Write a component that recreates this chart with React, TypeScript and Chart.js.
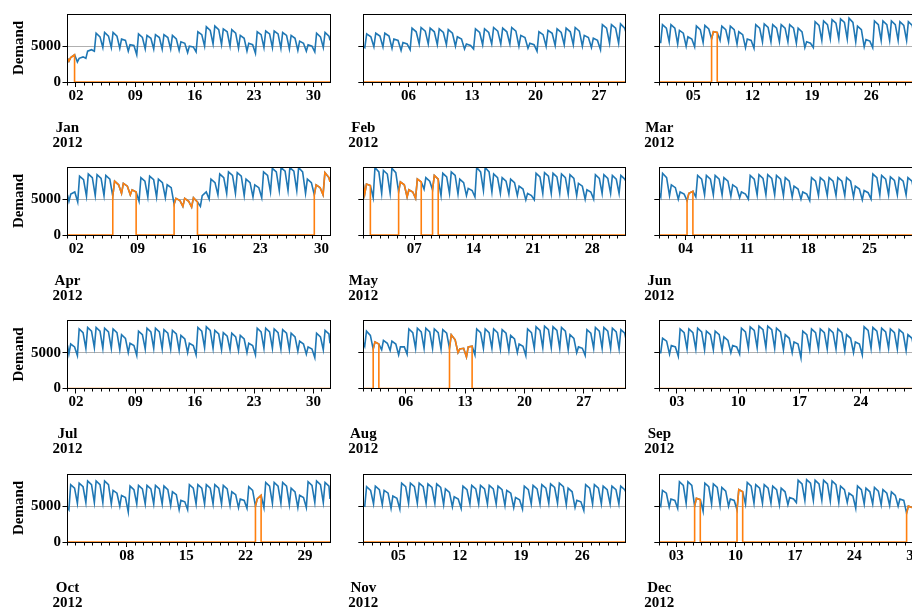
import React, { useEffect, useRef } from "react";
import { Chart, registerables } from "chart.js";

Chart.register(...registerables);

// ---------------- DATA ----------------
const YEAR = "2012";
const MONTHS = ["Jan", "Feb", "Mar", "Apr", "May", "Jun", "Jul", "Aug", "Sep", "Oct", "Nov", "Dec"];
const DAYS_IN_MONTH = [31, 29, 31, 30, 31, 30, 31, 31, 30, 31, 30, 31];
// weekly (Monday) tick days for each month
const TICK_DAYS = [
  [2, 9, 16, 23, 30], [6, 13, 20, 27], [5, 12, 19, 26], [2, 9, 16, 23, 30],
  [7, 14, 21, 28], [4, 11, 18, 25], [2, 9, 16, 23, 30], [6, 13, 20, 27],
  [3, 10, 17, 24], [8, 15, 22, 29], [5, 12, 19, 26], [3, 10, 17, 24, 31],
];
const Y_TICKS = [0, 5000];
const Y_MAX = 9480;
// hour of day of the three readings per day: night low, morning peak, evening plateau
const POINT_HOURS = [4, 9, 20];
// demand at 00:00 of the first day and 23:00 of the last day
const MONTH_START = [3300, 5000, 5500, 5600, 7100, 5800, 6000, 6400, 5000, 4800, 5100, 5300];
const MONTH_END = [5800, 7000, 6500, 7400, 7500, 6300, 6300, 7000, 6000, 6000, 7000, 4800];

const JAN_LOW = [2900, 2800, 3300, 4300, 4800, 4800, 4700, 4300, 3800, 4600, 4600, 4600, 4600, 4400, 4100, 4200, 5000, 5300, 5200, 5000, 4700, 4300, 4000, 4800, 4800, 4700, 4600, 4400, 4300, 4200, 4800];
const JAN_PEAK = [3400, 3300, 4300, 6800, 6900, 6900, 6000, 5200, 6700, 6500, 6600, 6600, 6500, 5600, 5000, 7000, 7700, 7800, 7400, 7300, 6500, 5400, 7000, 7100, 7100, 6900, 6500, 5700, 5200, 6800, 6900];
const JAN_EVE = [3800, 3500, 4500, 6300, 6400, 6400, 5800, 5100, 6200, 6100, 6200, 6200, 6000, 5400, 4900, 6600, 7200, 7300, 7000, 6800, 6100, 5200, 6600, 6700, 6700, 6500, 6100, 5400, 5000, 6300, 6400];

const FEB_LOW = [4800, 4900, 4900, 4700, 4400, 4500, 5300, 5300, 5200, 5200, 5000, 4600, 4600, 5200, 5300, 5300, 5300, 5000, 4700, 4300, 5000, 5100, 5200, 5200, 5000, 4800, 4500, 5400, 5400];
const FEB_PEAK = [6700, 6800, 6800, 6000, 5500, 7500, 7600, 7500, 7400, 7300, 6300, 5300, 7400, 7400, 7600, 7500, 7600, 6500, 5400, 7000, 7200, 7400, 7500, 7600, 6500, 6100, 8000, 8000, 8100];
const FEB_EVE = [6300, 6400, 6400, 5800, 5300, 7000, 7100, 7000, 6900, 6800, 6000, 5100, 6900, 6900, 7100, 7000, 7100, 6200, 5200, 6600, 6800, 6900, 7000, 7100, 6200, 5800, 7500, 7500, 7500];

const MAR_LOW = [5500, 5600, 5300, 5000, 4900, 5500, 6000, 5800, 5600, 5300, 4800, 4700, 5600, 5600, 5600, 5600, 5400, 4800, 4800, 5800, 6000, 6000, 6000, 5600, 4900, 4800, 5800, 5800, 5800, 5800, 5500];
const MAR_PEAK = [8000, 8000, 7200, 6300, 7800, 7900, 7000, 7800, 7800, 7000, 6000, 8000, 8100, 8000, 8000, 8000, 7500, 5600, 8400, 8500, 8700, 8800, 8900, 7800, 5900, 8500, 8500, 8500, 8400, 8400, 7500];
const MAR_EVE = [7500, 7500, 6800, 6000, 7300, 7400, 6900, 7300, 7300, 6600, 5800, 7500, 7600, 7500, 7500, 7500, 7000, 5400, 7900, 8000, 8200, 8300, 8300, 7300, 5700, 8000, 8000, 8000, 7900, 7900, 7000];

const APR_LOW = [4700, 4600, 5400, 5500, 5500, 5400, 5800, 5600, 4700, 5300, 5300, 5200, 4300, 4000, 3900, 4000, 5000, 5600, 5800, 5800, 5500, 5300, 5200, 6000, 6200, 6200, 6200, 5800, 5600, 5600];
const APR_PEAK = [5700, 8200, 8500, 8400, 8300, 7500, 7200, 6300, 8000, 8200, 7800, 7000, 5100, 5100, 5200, 5500, 7800, 8500, 8800, 8700, 7800, 7000, 8800, 9300, 9400, 9400, 9400, 7800, 7000, 8700];
const APR_EVE = [6000, 7700, 8000, 7900, 7800, 7000, 6800, 6000, 7500, 7700, 7300, 6600, 4800, 4700, 4600, 6000, 7300, 8000, 8300, 8200, 7300, 6600, 8300, 8800, 8900, 8900, 8800, 7300, 6600, 8000];

const MAY_LOW = [5700, 5200, 5800, 5800, 6000, 5300, 5100, 6400, 6300, 5500, 5800, 5700, 5500, 5300, 6200, 6000, 5800, 5700, 5500, 4900, 4900, 5800, 5800, 5800, 5700, 5500, 5000, 5000, 5800, 5800, 5800];
const MAY_PEAK = [7100, 9400, 9000, 9300, 7400, 6300, 7800, 8000, 8300, 8600, 8800, 7800, 6500, 9400, 9400, 8500, 8000, 7800, 6800, 5800, 8600, 8700, 8600, 8500, 8400, 7200, 6300, 8400, 8400, 8300, 8300];
const MAY_EVE = [6900, 8800, 8500, 8700, 7000, 6000, 7400, 7500, 7800, 8100, 8300, 7300, 6200, 8800, 8800, 8000, 7500, 7300, 6400, 5500, 8100, 8200, 8100, 8000, 7900, 6800, 6000, 7900, 7900, 7800, 7800];

const JUN_LOW = [5300, 5500, 5000, 4800, 5300, 5600, 5600, 5600, 5400, 5200, 5000, 5600, 5600, 5600, 5500, 5300, 5000, 4800, 5500, 5500, 5500, 5500, 5300, 4900, 5000, 5600, 5600, 5600, 5600, 5400];
const JUN_PEAK = [8600, 7000, 6000, 5800, 8300, 8300, 8300, 8000, 7000, 6000, 8300, 8400, 8400, 8300, 8000, 6800, 6000, 8000, 8000, 8000, 8000, 8000, 6800, 6200, 8500, 8300, 8100, 8000, 8000, 7000];
const JUN_EVE = [8000, 6600, 5700, 6100, 7800, 7800, 7800, 7500, 6600, 5700, 7800, 7900, 7900, 7800, 7500, 6400, 5700, 7500, 7500, 7500, 7500, 7500, 6400, 5900, 8000, 7800, 7600, 7500, 7500, 6600];

const JUL_LOW = [4800, 4600, 5600, 5700, 5600, 5600, 5400, 5000, 4600, 5500, 5600, 5500, 5500, 5300, 5000, 4700, 5700, 5600, 5400, 5400, 5300, 5000, 4700, 5600, 5600, 5500, 5400, 5200, 4800, 4300, 5400];
const JUL_PEAK = [6200, 8300, 8500, 8500, 8400, 8300, 7500, 6300, 8000, 8400, 8400, 8200, 8100, 7400, 6300, 8500, 8600, 8100, 7800, 7700, 7400, 6300, 8400, 8400, 8300, 8200, 7700, 6600, 5800, 7700, 8100];
const JUL_EVE = [5800, 7800, 8000, 8000, 7900, 7800, 7000, 6000, 7500, 7900, 7900, 7700, 7600, 6900, 6000, 8000, 8100, 7600, 7300, 7200, 6900, 6000, 7900, 7900, 7800, 7700, 7200, 6200, 5500, 7200, 7600];

const AUG_LOW = [5900, 5500, 5400, 5300, 4700, 4800, 5600, 5600, 5600, 5500, 5600, 5000, 4400, 4700, 5600, 5600, 5500, 5300, 5000, 4600, 5600, 5700, 5700, 5600, 5400, 5000, 4600, 5600, 5600, 5600, 5500];
const AUG_PEAK = [8000, 6500, 6700, 6600, 5800, 8300, 8400, 8400, 8300, 8200, 7500, 5500, 5800, 8300, 8300, 8300, 8200, 7400, 6200, 8300, 8600, 8700, 8600, 8500, 7500, 5800, 8200, 8500, 8500, 8400, 8200];
const AUG_EVE = [7400, 6200, 6300, 6200, 5800, 7800, 7900, 7900, 7800, 7700, 6800, 5600, 5900, 7800, 7800, 7800, 7700, 6900, 5900, 7800, 8100, 8200, 8100, 8000, 7000, 5600, 7700, 8000, 8000, 7900, 7700];

const SEP_LOW = [5000, 4800, 4500, 5500, 5500, 5400, 5400, 5300, 5000, 4800, 5600, 5700, 5700, 5600, 5400, 5000, 4300, 5400, 5500, 5500, 5500, 5300, 5000, 4700, 5600, 5600, 5600, 5500, 5300, 4900];
const SEP_PEAK = [7000, 6000, 8300, 8300, 8400, 8000, 8000, 7200, 6000, 8400, 8600, 8700, 8700, 8400, 7500, 6500, 8000, 8300, 8300, 8300, 8300, 7500, 6500, 8600, 8500, 8400, 8300, 8200, 7500, 6200];
const SEP_EVE = [6600, 5800, 7800, 7800, 7900, 7500, 7500, 6700, 5800, 7900, 8100, 8200, 8200, 7900, 7000, 6200, 7500, 7800, 7800, 7800, 7800, 7000, 6200, 8100, 8000, 7900, 7800, 7700, 7000, 5900];

const OCT_LOW = [4500, 5400, 5500, 5500, 5500, 5300, 5000, 4200, 5300, 5300, 5300, 5300, 5100, 4500, 4500, 5300, 5300, 5300, 5300, 5100, 4800, 4700, 5000, 4800, 5400, 5400, 5200, 4800, 4800, 5500, 5500];
const OCT_PEAK = [8000, 8200, 8500, 8500, 8500, 7200, 6500, 7800, 7900, 7900, 7900, 7800, 7000, 5800, 8000, 8000, 8000, 8000, 7900, 7000, 6000, 7700, 6000, 8300, 8300, 8300, 7500, 6500, 8400, 8500, 8300];
const OCT_EVE = [7500, 7700, 8000, 8000, 8000, 6800, 6200, 7300, 7400, 7400, 7400, 7300, 6600, 5600, 7500, 7500, 7500, 7500, 7400, 6600, 5800, 7200, 6500, 7800, 7800, 7800, 7000, 6200, 7900, 8000, 7800];

const NOV_LOW = [5000, 5300, 5200, 4700, 4600, 5400, 5400, 5400, 5400, 5200, 4900, 4700, 5300, 5300, 5300, 5300, 5100, 4800, 4600, 5300, 5300, 5400, 5400, 5200, 4800, 4400, 5300, 5300, 5300, 5300];
const NOV_PEAK = [7700, 7800, 7200, 6400, 8200, 8200, 8200, 8100, 8100, 7400, 6300, 7800, 7900, 7900, 7900, 7800, 7200, 6200, 7800, 7900, 8000, 8100, 8200, 7500, 5800, 8000, 8000, 7800, 7800, 7800];
const NOV_EVE = [7200, 7300, 6800, 6100, 7700, 7700, 7700, 7600, 7600, 6900, 6000, 7300, 7400, 7400, 7400, 7300, 6800, 5900, 7300, 7400, 7500, 7600, 7700, 7000, 5600, 7500, 7500, 7300, 7300, 7300];

const DEC_LOW = [5000, 4900, 4700, 5400, 5000, 4300, 5300, 5100, 5000, 4500, 5300, 5400, 5400, 5400, 5200, 5200, 5500, 5800, 5800, 5800, 5700, 5500, 5500, 4700, 5300, 5300, 5200, 5100, 5000, 4000, 4300];
const DEC_PEAK = [7200, 6000, 8400, 8400, 6100, 8200, 8100, 7600, 6000, 7300, 8300, 8000, 8000, 7800, 7500, 6200, 8600, 8700, 8600, 8600, 8500, 7800, 6800, 7800, 7500, 7600, 7300, 7000, 6000, 5000, 5000];
const DEC_EVE = [6800, 5800, 7900, 7900, 5900, 7700, 7600, 7100, 5800, 7000, 7800, 7500, 7500, 7300, 7000, 6000, 8100, 8200, 8100, 8100, 8000, 7300, 6400, 7300, 7000, 7100, 6800, 6500, 5800, 4800, 4800];

const LOWS = [JAN_LOW, FEB_LOW, MAR_LOW, APR_LOW, MAY_LOW, JUN_LOW, JUL_LOW, AUG_LOW, SEP_LOW, OCT_LOW, NOV_LOW, DEC_LOW];
const PEAKS = [JAN_PEAK, FEB_PEAK, MAR_PEAK, APR_PEAK, MAY_PEAK, JUN_PEAK, JUL_PEAK, AUG_PEAK, SEP_PEAK, OCT_PEAK, NOV_PEAK, DEC_PEAK];
const EVES = [JAN_EVE, FEB_EVE, MAR_EVE, APR_EVE, MAY_EVE, JUN_EVE, JUL_EVE, AUG_EVE, SEP_EVE, OCT_EVE, NOV_EVE, DEC_EVE];

// flagged periods (month, first day, last day) drawn in orange
const ANOMALIES: [string, number, number][] = [
  ["Jan", 1, 1], ["Mar", 7, 7], ["Apr", 6, 8], ["Apr", 13, 15], ["Apr", 29, 30],
  ["May", 1, 1], ["May", 5, 7], ["May", 9, 9], ["Jun", 4, 4], ["Aug", 2, 2], ["Aug", 11, 13],
  ["Oct", 23, 23], ["Dec", 5, 5], ["Dec", 10, 10], ["Dec", 30, 31],
];

// ---------------- LAYOUT ----------------
const FONT = "'Liberation Serif', 'Times New Roman', serif";
const BLUE = "#1f77b4";
const ORANGE = "#ff7f0e";
const COL_PLOT_LEFT = [67.5, 363.3, 659.3];
const COL_CANVAS_LEFT = [0, 296, 592];
const ROW_PLOT_TOP = [14, 167, 320.5, 474];
const ROW_CANVAS_TOP = [0, 153, 306, 460];
const PLOT_W = 262.5;
const PLOT_H = 68;
const CANVAS_W = 350;
const CANVAS_H = 153;

type P = { x: number; y: number };

function buildSeries(m: number): P[] {
  const days = DAYS_IN_MONTH[m];
  const pts: P[] = [{ x: 0, y: MONTH_START[m] }];
  for (let d = 0; d < days; d++) {
    pts.push({ x: d * 24 + POINT_HOURS[0], y: LOWS[m][d] });
    pts.push({ x: d * 24 + POINT_HOURS[1], y: PEAKS[m][d] });
    pts.push({ x: d * 24 + POINT_HOURS[2], y: EVES[m][d] });
  }
  pts.push({ x: days * 24 - 1, y: MONTH_END[m] });
  return pts;
}

function inAnomaly(m: number, hour: number) {
  return ANOMALIES.some(([mn, a, b]) => mn === MONTHS[m] && hour >= (a - 1) * 24 && hour < b * 24);
}

function buildOrange(m: number, pts: P[]): P[] {
  const out: P[] = [];
  let prevIn = false;
  pts.forEach((p, i) => {
    const inside = inAnomaly(m, p.x);
    if (inside) {
      if (!prevIn && i > 0) out.push({ x: p.x, y: 0 });
      out.push({ x: p.x, y: p.y });
    } else {
      if (prevIn) out.push({ x: pts[i - 1].x, y: 0 });
      out.push({ x: p.x, y: 0 });
    }
    prevIn = inside;
  });
  return out;
}

const align = (p: number) => Math.round(p - 0.5) + 0.5;

function decorPlugin(m: number) {
  return {
    id: "decor" + m,
    afterDatasetsDraw(chart: any) {
      const { ctx, chartArea } = chart;
      const xs = chart.scales.x;
      ctx.save();
      ctx.strokeStyle = "#000";
      ctx.lineWidth = 1;
      const l = align(chartArea.left), r = align(chartArea.right);
      const t = align(chartArea.top), b = align(chartArea.bottom);
      ctx.strokeRect(l, t, r - l, b - t);
      // daily minor ticks
      const major = TICK_DAYS[m];
      ctx.beginPath();
      for (let d = 1; d <= DAYS_IN_MONTH[m]; d++) {
        if (major.includes(d)) continue;
        const px = align(xs.getPixelForValue((d - 1) * 24));
        ctx.moveTo(px, b);
        ctx.lineTo(px, b + 3);
      }
      ctx.stroke();
      ctx.restore();
    },
    afterDraw(chart: any) {
      const { ctx, chartArea } = chart;
      ctx.save();
      ctx.fillStyle = "#000";
      ctx.font = `bold 15px ${FONT}`;
      ctx.textAlign = "center";
      ctx.textBaseline = "alphabetic";
      ctx.fillText(MONTHS[m], chartArea.left, chartArea.bottom + 49.7);
      ctx.fillText(YEAR, chartArea.left, chartArea.bottom + 64.7);
      ctx.restore();
    },
  };
}

function makeChart(canvas: HTMLCanvasElement, m: number) {
  const col = m % 3;
  const row = Math.floor(m / 3);
  const yw = COL_PLOT_LEFT[col] - COL_CANVAS_LEFT[col];
  const padTop = ROW_PLOT_TOP[row] - ROW_CANVAS_TOP[row];
  const padRight = CANVAS_W - yw - PLOT_W;
  const xh = CANVAS_H - padTop - PLOT_H;
  const days = DAYS_IN_MONTH[m];
  const blue = buildSeries(m);
  const orange = buildOrange(m, blue);
  const tickFont = { family: FONT, size: 15, weight: "bold" as const };
  return new Chart(canvas, {
    type: "line",
    data: {
      datasets: [
        { data: orange, borderColor: ORANGE, borderWidth: 1.6, pointRadius: 0, tension: 0, order: 1 },
        { data: blue, borderColor: BLUE, borderWidth: 1.6, pointRadius: 0, tension: 0, order: 2 },
      ],
    },
    options: {
      animation: false,
      responsive: false,
      devicePixelRatio: 1,
      events: [],
      layout: { padding: { top: padTop, right: padRight, left: 0, bottom: 0 } },
      plugins: { legend: { display: false }, tooltip: { enabled: false } },
      scales: {
        x: {
          type: "linear",
          min: 0,
          max: days * 24 - 1,
          afterBuildTicks: (s: any) => {
            s.ticks = TICK_DAYS[m].map((d) => ({ value: (d - 1) * 24 }));
          },
          afterFit: (s: any) => {
            s.height = xh;
          },
          ticks: {
            autoSkip: false,
            maxRotation: 0,
            padding: 0,
            color: "#000",
            font: tickFont,
            callback: (v: any) => String(Math.round(v / 24) + 1).padStart(2, "0"),
          },
          grid: { drawOnChartArea: false, drawTicks: true, tickLength: 5, tickColor: "#000", tickWidth: 1 },
          border: { display: true, color: "#000", width: 1 },
        },
        y: {
          min: 0,
          max: Y_MAX,
          afterBuildTicks: (s: any) => {
            s.ticks = Y_TICKS.map((v) => ({ value: v }));
          },
          afterFit: (s: any) => {
            s.width = yw;
          },
          ticks: {
            display: col === 0,
            padding: 1.5,
            color: "#000",
            font: tickFont,
            callback: (v: any) => String(v),
          },
          title: {
            display: col === 0,
            text: "Demand",
            color: "#000",
            font: tickFont,
            padding: { top: 10, bottom: 0 },
          },
          grid: {
            color: (c: any) => (c.tick && c.tick.value === 5000 ? "#b0b0b0" : "rgba(0,0,0,0)"),
            lineWidth: 1,
            tickColor: "#000",
            tickLength: 5,
            tickWidth: 1,
          },
          border: { display: true, color: "#000", width: 1 },
        },
      },
    } as any,
    plugins: [decorPlugin(m)],
  });
}

export default function App() {
  const refs = useRef<(HTMLCanvasElement | null)[]>([]);
  useEffect(() => {
    const charts = refs.current.map((c, m) => (c ? makeChart(c, m) : null));
    return () => charts.forEach((c) => c && c.destroy());
  }, []);
  return (
    <div
      style={{
        position: "fixed",
        left: 0,
        top: 0,
        width: 912,
        height: 607,
        overflow: "hidden",
        background: "#fff",
      }}
    >
      {MONTHS.map((name, m) => (
        <canvas
          key={name}
          ref={(el) => {
            refs.current[m] = el;
          }}
          width={CANVAS_W}
          height={CANVAS_H}
          style={{
            position: "absolute",
            left: COL_CANVAS_LEFT[m % 3],
            top: ROW_CANVAS_TOP[Math.floor(m / 3)],
            width: CANVAS_W,
            height: CANVAS_H,
          }}
        />
      ))}
    </div>
  );
}
